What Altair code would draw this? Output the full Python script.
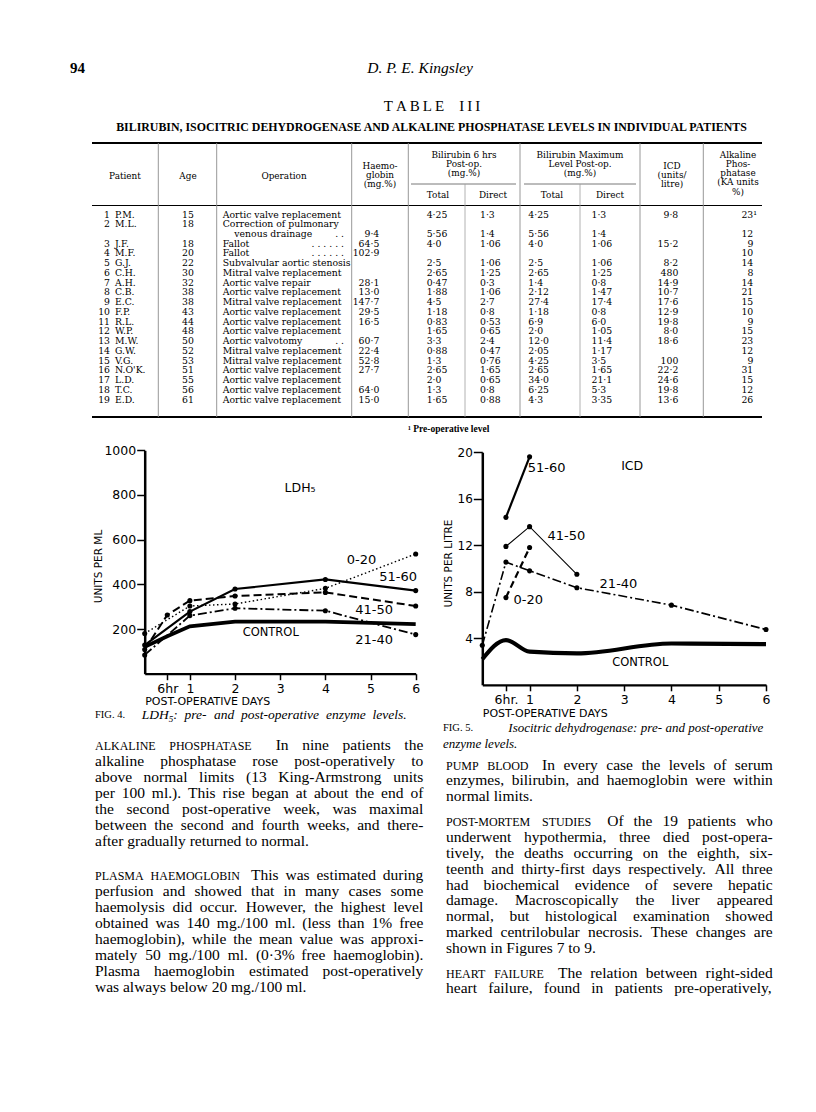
import altair as alt
import pandas as pd

W, H = 800, 1090
M = 8
SERIF = "Liberation Serif"
TSERIF = "DejaVu Serif"
SANS = "DejaVu Sans"

# ---------------------------------------------------------------- data
PATIENT = ["P.M.", "M.L.", "J.F.", "M.F.", "G.J.", "C.H.", "A.H.", "C.B.", "E.C.", "F.P.",
           "R.L.", "W.P.", "M.W.", "G.W.", "V.G.", "N.O'K.", "L.D.", "T.C.", "E.D."]
AGE = [15, 18, 18, 20, 22, 30, 32, 38, 38, 43, 44, 48, 50, 52, 53, 51, 55, 56, 61]
OPERATION = ["Aortic valve replacement", "Correction of pulmonary|venous drainage", "Fallot", "Fallot",
             "Subvalvular aortic stenosis", "Mitral valve replacement", "Aortic valve repair",
             "Aortic valve replacement", "Mitral valve replacement", "Aortic valve replacement",
             "Aortic valve replacement", "Aortic valve replacement", "Aortic valvotomy",
             "Mitral valve replacement", "Mitral valve replacement", "Aortic valve replacement",
             "Aortic valve replacement", "Aortic valve replacement", "Aortic valve replacement"]
HAEMO = ["", "9·4", "64·5", "102·9", "", "", "28·1", "13·0", "147·7", "29·5", "16·5", "", "60·7",
         "22·4", "52·8", "27·7", "", "64·0", "15·0"]
BILI6_TOTAL = ["4·25", "5·56", "4·0", "", "2·5", "2·65", "0·47", "1·88", "4·5", "1·18", "0·83", "1·65",
               "3·3", "0·88", "1·3", "2·65", "2·0", "1·3", "1·65"]
BILI6_DIRECT = ["1·3", "1·4", "1·06", "", "1·06", "1·25", "0·3", "1·06", "2·7", "0·8", "0·53", "0·65",
                "2·4", "0·47", "0·76", "1·65", "0·65", "0·8", "0·88"]
BILIMAX_TOTAL = ["4·25", "5·56", "4·0", "", "2·5", "2·65", "1·4", "2·12", "27·4", "1·18", "6·9", "2·0",
                 "12·0", "2·05", "4·25", "2·65", "34·0", "6·25", "4·3"]
BILIMAX_DIRECT = ["1·3", "1·4", "1·06", "", "1·06", "1·25", "0·8", "1·47", "17·4", "0·8", "6·0", "1·05",
                  "11·4", "1·17", "3·5", "1·65", "21·1", "5·3", "3·35"]
ICD_UNITS = ["9·8", "", "15·2", "", "8·2", "480", "14·9", "10·7", "17·6", "12·9", "19·8", "8·0", "18·6",
             "", "100", "22·2", "24·6", "19·8", "13·6"]
ALK_PHOS = ["23¹", "12", "9", "10", "14", "8", "14", "21", "15", "10", "9", "15", "23", "12", "9", "31",
            "15", "12", "26"]

# Fig. 4 : LDH5 (units per ml) by age group
LDH_CONTROL_DAYS = [0, 0.5, 1, 2, 4, 6]
LDH_CONTROL = [120, 168, 212, 233, 233, 222]
LDH_0_20_DAYS = [0, 1, 2, 4, 6]
LDH_0_20 = [180, 303, 312, 382, 536]
LDH_21_40_DAYS = [0, 1, 2, 4, 6]
LDH_21_40 = [84, 260, 293, 282, 175]
LDH_41_50_DAYS = [0, 0.5, 1, 2, 4, 6]
LDH_41_50 = [108, 263, 327, 348, 364, 303]
LDH_51_60_DAYS = [0, 1, 2, 4, 6]
LDH_51_60 = [128, 278, 379, 422, 372]

# Fig. 5 : ICD (units per litre) by age group
ICD_CONTROL_DAYS = [0, 0.5, 1, 2, 4, 6]
ICD_CONTROL = [2.2, 3.85, 2.85, 2.7, 3.55, 3.5]
ICD_0_20_DAYS = [0.5, 1]
ICD_0_20 = [7.5, 11.8]
ICD_21_40_DAYS = [0, 0.5, 1, 2, 4, 6]
ICD_21_40 = [3.4, 10.55, 9.8, 8.35, 6.85, 4.75]
ICD_41_50_DAYS = [0.5, 1, 2]
ICD_41_50 = [11.9, 13.6, 9.5]
ICD_51_60_DAYS = [0.5, 1]
ICD_51_60 = [14.4, 19.6]

LEFT_COLUMN = [
    ("ALKALINE PHOSPHATASE", [
        "In nine patients the",
        "alkaline phosphatase rose post-operatively to",
        "above normal limits (13 King-Armstrong units",
        "per 100 ml.). This rise began at about the end of",
        "the second post-operative week, was maximal",
        "between the second and fourth weeks, and there-",
        "after gradually returned to normal."], False),
    ("PLASMA HAEMOGLOBIN", [
        "This was estimated during",
        "perfusion and showed that in many cases some",
        "haemolysis did occur. However, the highest level",
        "obtained was 140 mg./100 ml. (less than 1% free",
        "haemoglobin), while the mean value was approxi-",
        "mately 50 mg./100 ml. (0·3% free haemoglobin).",
        "Plasma haemoglobin estimated post-operatively",
        "was always below 20 mg./100 ml."], False),
]
RIGHT_COLUMN = [
    ("PUMP BLOOD", [
        "In every case the levels of serum",
        "enzymes, bilirubin, and haemoglobin were within",
        "normal limits."], False),
    ("POST-MORTEM STUDIES", [
        "Of the 19 patients who",
        "underwent hypothermia, three died post-opera-",
        "tively, the deaths occurring on the eighth, six-",
        "teenth and thirty-first days respectively. All three",
        "had biochemical evidence of severe hepatic",
        "damage. Macroscopically the liver appeared",
        "normal, but histological examination showed",
        "marked centrilobular necrosis. These changes are",
        "shown in Figures 7 to 9."], False),
    ("HEART FAILURE", [
        "The relation between right-sided",
        "heart failure, found in patients pre-operatively,"], True),
]

# ---------------------------------------------------------------- font metrics (Times, 1/1000 em)
UP = "ABCDEFGHIJKLMNOPQRSTUVWXYZ"
LO = "abcdefghijklmnopqrstuvwxyz"
ROMAN = {' ': 250, '!': 333, '%': 833, "'": 333, '(': 333, ')': 333, ',': 250, '-': 333, '.': 250,
         '/': 278, ':': 278, ';': 278, '·': 250, '¹': 300}
ROMAN.update({d: 500 for d in "0123456789"})
ROMAN.update(dict(zip(UP, [722, 667, 667, 722, 611, 556, 722, 722, 333, 389, 722, 611, 889, 722, 722,
                           556, 722, 667, 556, 611, 722, 722, 944, 722, 722, 611])))
ROMAN.update(dict(zip(LO, [444, 500, 444, 500, 444, 333, 500, 500, 278, 278, 500, 278, 778, 500, 500,
                           500, 500, 333, 389, 278, 500, 500, 722, 500, 500, 444])))
ITALIC = dict(ROMAN)
ITALIC.update(dict(zip(LO, [500, 500, 444, 500, 444, 278, 500, 500, 278, 278, 444, 278, 722, 500, 500,
                            500, 500, 389, 389, 278, 500, 444, 667, 444, 444, 389])))
ITALIC.update(dict(zip(UP, [611, 611, 667, 722, 611, 611, 722, 722, 333, 444, 667, 556, 833, 667, 722,
                            611, 722, 611, 500, 556, 722, 611, 833, 611, 556, 556])))
ITALIC[':'] = 333
BOLD = dict(ROMAN)
BOLD.update(dict(zip(UP, [722, 667, 722, 722, 667, 611, 778, 778, 389, 500, 778, 667, 944, 722, 778,
                          611, 778, 722, 556, 667, 722, 722, 1000, 722, 722, 667])))


def em(s, table=ROMAN):
    return sum(table.get(c, 500) for c in s) / 1000.0


TEXT = []
RULES = []


def put(x, y, t, size, align="left", style="normal", weight="normal", font=SERIF, base="middle"):
    TEXT.append(dict(x=x, y=y, t=t, s=size, align=align, style=style, weight=weight, font=font, base=base))


def rule(x1, y1, x2, y2, w, c="black"):
    RULES.append(dict(x=x1, y=y1, x2=x2, y2=y2, w=w, c=c))


def line_words(y, x0, x1, runs, justify=True):
    words = []
    for text, size, style, lead in runs:
        table = ITALIC if style == "italic" else ROMAN
        for i, w in enumerate(text.split()):
            words.append([w, size, style, em(w, table) * size, lead if i == 0 else 1.0])
    words[0][4] = 0.0
    total = sum(w[3] for w in words)
    weights = sum(w[4] for w in words)
    if justify and weights > 0:
        unit = (x1 - x0 - total) / weights
    else:
        unit = 0.25 * words[-1][1]
    x = x0
    for w, size, style, width, lead in words:
        x += lead * unit
        put(x, y, w, size, "left", style, base="alphabetic")
        x += width
    return x


# ---------------------------------------------------------------- page header
put(70, 68, "94", 15, weight="bold")
put(420, 68, "D. P. E. Kingsley", 15.5, "center", style="italic")
put(432, 106, "\u2009".join("TABLE") + "\u2003" + "\u2009".join("III"), 15, "center")
SUB = "BILIRUBIN, ISOCITRIC DEHYDROGENASE AND ALKALINE PHOSPHATASE LEVELS IN INDIVIDUAL PATIENTS"
put(431.5, 127, SUB, 637 / em(SUB, BOLD), "center", weight="bold")

# ---------------------------------------------------------------- table
TL, TR = 92, 762
T_TOP, T_SUB, T_HEAD, T_BOT = 143, 184, 205.5, 417
rule(TL, T_TOP, TR, T_TOP, 2.2)
rule(TL, T_HEAD, TR, T_HEAD, 1.2)
rule(TL, T_BOT, TR, T_BOT, 2.2)
rule(411, T_SUB, 516, T_SUB, 0.8, "#555555")
rule(524, T_SUB, 636, T_SUB, 0.8, "#555555")
for vx in [158.3, 216.7, 351.7, 408.3, 520, 640, 703.3]:
    rule(vx, T_TOP, vx, T_BOT, 0.9, "#8c8c8c")
for vx in [465, 580]:
    rule(vx, T_SUB, vx, T_BOT, 0.8, "#a0a0a0")

HS, HSTEP = 8.9, 9.3
put(125, 176, "Patient", HS, "center", font=TSERIF)
put(188, 176, "Age", HS, "center", font=TSERIF)
put(284, 176, "Operation", HS, "center", font=TSERIF)
for i, t in enumerate(["Haemo-", "globin", "(mg.%)"]):
    put(380, 165.5 + HSTEP * i, t, HS, "center", font=TSERIF)
for i, t in enumerate(["Bilirubin 6 hrs", "Post-op.", "(mg.%)"]):
    put(464, 154.5 + HSTEP * i, t, HS, "center", font=TSERIF)
for i, t in enumerate(["Bilirubin Maximum", "Level Post-op.", "(mg.%)"]):
    put(580, 154.5 + HSTEP * i, t, HS, "center", font=TSERIF)
for x, t in [(438, "Total"), (493, "Direct"), (552, "Total"), (610, "Direct")]:
    put(x, 194.5, t, HS, "center", font=TSERIF)
for i, t in enumerate(["ICD", "(units/", "litre)"]):
    put(672, 165.5 + HSTEP * i, t, HS, "center", font=TSERIF)
for i, t in enumerate(["Alkaline", "Phos-", "phatase", "(KA units", "%)"]):
    put(738, 154.5 + HSTEP * i, t, HS, "center", font=TSERIF)

RS = 9.3
ROW_Y0, ROW_STEP = 214.5, 9.74


def ly(i):
    return ROW_Y0 + ROW_STEP * i


for k in range(19):
    nl = k if k < 2 else k + 1
    dl = 0 if k == 0 else (2 if k == 1 else k + 1)
    put(110, ly(nl), str(k + 1), RS, "right", font=TSERIF)
    put(115, ly(nl), PATIENT[k], RS, font=TSERIF)
    put(188, ly(nl), str(AGE[k]), RS, "center", font=TSERIF)
    parts = OPERATION[k].split("|")
    put(222.7, ly(nl), parts[0], RS, font=TSERIF)
    if len(parts) > 1:
        put(234.3, ly(nl + 1), parts[1], RS, font=TSERIF)
        put(344, ly(nl + 1), ". .", RS, "right", font=TSERIF)
    if parts[0] == "Fallot":
        put(344, ly(nl), ". .       . .       . .", RS, "right", font=TSERIF)
    if parts[0] == "Aortic valvotomy":
        put(344, ly(nl), ". .", RS, "right", font=TSERIF)
    put(379.3, ly(dl), HAEMO[k], RS, "right", font=TSERIF)
    put(426.7, ly(dl), BILI6_TOTAL[k], RS, font=TSERIF)
    put(480, ly(dl), BILI6_DIRECT[k], RS, font=TSERIF)
    put(528.3, ly(dl), BILIMAX_TOTAL[k], RS, font=TSERIF)
    put(591.5, ly(dl), BILIMAX_DIRECT[k], RS, font=TSERIF)
    put(678.3, ly(dl), ICD_UNITS[k], RS, "right", font=TSERIF)
    put(757 if ALK_PHOS[k].endswith("¹") else 753.3, ly(dl), ALK_PHOS[k], RS, "right", font=TSERIF)

put(408, 429, "¹ Pre-operative level", 9.5, weight="bold")

# ---------------------------------------------------------------- captions
put(95, 715, "FIG. 4.", 10.5)
cx = 141.7
put(cx, 718.5, "LDH", 13.5, style="italic", base="alphabetic")
cx += em("LDH", ITALIC) * 13.5
put(cx, 721.5, "5", 9, style="italic", base="alphabetic")
cx += em("5") * 9
line_words(718.5, cx, 406.7, [(": pre- and post-operative enzyme levels.", 13.5, "italic", 1.0)])

put(443, 728.3, "FIG. 5.", 10.5)
line_words(731.8, 508.3, 763.3, [("Isocitric dehydrogenase: pre- and post-operative", 13, "italic", 1.0)])
line_words(747.5, 443, 763.3, [("enzyme levels.", 13, "italic", 1.0)], justify=False)

# ---------------------------------------------------------------- body text
BS, HSZ = 15.5, 12


def column(paras, starts, step, x0, x1):
    for (head, lines, last_just), y0 in zip(paras, starts):
        for i, ln in enumerate(lines):
            y = y0 + step * i + 3.5
            just = (i < len(lines) - 1) or last_just
            runs = [(ln, BS, "normal", 1.0)]
            if i == 0:
                runs = [(head, HSZ, "normal", 0.0), (ln, BS, "normal", 1.6)]
            line_words(y, x0, x1, runs, justify=just)


column(LEFT_COLUMN, [746.7, 876.7], 16.0, 95, 423.3)
column(RIGHT_COLUMN, [766, 822.7, 974], 15.85, 446, 772.7)

# ---------------------------------------------------------------- page layers
PX = alt.Scale(domain=[M, M + W], range=[0, W], nice=False, zero=False)
PY = alt.Scale(domain=[M, M + H], range=[0, H], nice=False, zero=False)

tdf = pd.DataFrame(TEXT)
text_layers = []
for (align, style, weight, font, base), g in tdf.groupby(["align", "style", "weight", "font", "base"]):
    g = g[["x", "y", "t", "s"]].reset_index(drop=True)
    text_layers.append(
        alt.Chart(g).mark_text(align=align, baseline=base, fontStyle=style, fontWeight=weight,
                               font=font, color="black").encode(
            x=alt.X("x:Q", scale=PX, axis=None),
            y=alt.Y("y:Q", scale=PY, axis=None),
            text=alt.Text("t:N"),
            size=alt.Size("s:Q", scale=None),
        )
    )

rule_layer = alt.Chart(pd.DataFrame(RULES)).mark_rule().encode(
    x=alt.X("x:Q", scale=PX, axis=None), x2="x2:Q",
    y=alt.Y("y:Q", scale=PY, axis=None), y2="y2:Q",
    strokeWidth=alt.StrokeWidth("w:Q", scale=None),
    color=alt.Color("c:N", scale=None),
)

# ---------------------------------------------------------------- plots
AX = dict(domainColor="black", tickColor="black", labelColor="black", titleColor="black", grid=False,
          labelFont=SANS, titleFont=SANS, titleFontWeight="normal", labelFlush=False, labelOverlap=False)


def long_df(groups):
    rows = []
    for name, ds, vs in groups:
        for d, v in zip(ds, vs):
            rows.append(dict(g=name, day=d, v=v))
    return pd.DataFrame(rows)


def plot(groups, styles, labels, x0, x1, y0, y1, ymax, yvals, ytitle, ytitle_x, ytitle_y,
         hr_label, xtitle_dy, ytick, smooth_control, ylab):
    df = long_df(groups)
    xe = alt.X("day:Q", scale=alt.Scale(domain=[0, 6], range=[x0 - M, x1 - M], nice=False, zero=False),
               axis=alt.Axis(orient="bottom", offset=(y0 - M) - H, values=[0.5, 1, 2, 3, 4, 5, 6],
                             labelExpr="datum.value == 0.5 ? '%s' : datum.label" % hr_label,
                             tickSize=6, tickWidth=1.5, domainWidth=2.2, labelFontSize=12.5,
                             labelPadding=3, title="POST-OPERATIVE DAYS", titleFontSize=11,
                             titleX=x0 - M, titleY=xtitle_dy, titleAlign="left", titleAngle=0,
                             titleBaseline="middle", **AX))
    ye = alt.Y("v:Q", scale=alt.Scale(domain=[0, ymax], range=[y0 - M, y1 - M], nice=False, zero=False),
               axis=alt.Axis(orient="left", offset=-(x0 - M), values=yvals, format="d",
                             tickSize=ytick, tickWidth=1.5, domainWidth=2.5, labelFontSize=ylab,
                             labelPadding=1, title=ytitle, titleFontSize=10.5, titleX=ytitle_x - x0,
                             titleY=ytitle_y - M, titleAngle=-90, titleAlign="center",
                             titleBaseline="middle", **AX))
    base = alt.Chart(df)
    layers = []
    for name, st in styles.items():
        st = dict(st)
        if name == "CONTROL" and smooth_control:
            st["interpolate"] = "monotone"
        layers.append(base.transform_filter(alt.datum.g == name)
                      .mark_line(color="black", **st).encode(x=xe, y=ye))
    layers.append(base.transform_filter(alt.datum.g != "CONTROL")
                  .mark_circle(size=26, color="black", opacity=1).encode(x=xe, y=ye))
    ldf = pd.DataFrame(labels, columns=["t", "day", "v", "s"])
    layers.append(alt.Chart(ldf).mark_text(font=SANS, color="black", align="center", baseline="middle")
                  .encode(x=xe, y=ye, text="t:N", size=alt.Size("s:Q", scale=None)))
    return alt.layer(*layers)


ldh = plot(
    [("CONTROL", LDH_CONTROL_DAYS, LDH_CONTROL), ("0-20", LDH_0_20_DAYS, LDH_0_20),
     ("21-40", LDH_21_40_DAYS, LDH_21_40), ("41-50", LDH_41_50_DAYS, LDH_41_50),
     ("51-60", LDH_51_60_DAYS, LDH_51_60)],
    {"CONTROL": dict(strokeWidth=3.8), "51-60": dict(strokeWidth=2.2),
     "41-50": dict(strokeWidth=2.0, strokeDash=[8, 4]), "0-20": dict(strokeWidth=1.4, strokeDash=[1.5, 2.5]),
     "21-40": dict(strokeWidth=1.8, strokeDash=[9, 3, 2, 3])},
    [("LDH₅", 3.44, 830, 12.5), ("0-20", 4.8, 509, 13), ("51-60", 5.61, 432, 13), ("41-50", 5.08, 285, 13),
     ("CONTROL", 2.79, 181, 11.5), ("21-40", 5.08, 151, 13)],
    144.7, 415.7, 673.7, 450.3, 1000, [200, 400, 600, 800, 1000], "UNITS PER ML", 98, 566,
    "6hr", 28, 8, False, 12.5)

icd = plot(
    [("CONTROL", ICD_CONTROL_DAYS, ICD_CONTROL), ("0-20", ICD_0_20_DAYS, ICD_0_20),
     ("21-40", ICD_21_40_DAYS, ICD_21_40), ("41-50", ICD_41_50_DAYS, ICD_41_50),
     ("51-60", ICD_51_60_DAYS, ICD_51_60)],
    {"CONTROL": dict(strokeWidth=4.2), "51-60": dict(strokeWidth=2.2), "41-50": dict(strokeWidth=1.1),
     "0-20": dict(strokeWidth=2.2, strokeDash=[7, 4]), "21-40": dict(strokeWidth=1.6, strokeDash=[9, 3, 2, 3])},
    [("ICD", 3.17, 18.8, 12.5), ("51-60", 1.36, 18.6, 13), ("41-50", 1.78, 12.8, 13),
     ("21-40", 2.88, 8.67, 13), ("0-20", 0.97, 7.29, 13), ("CONTROL", 3.34, 1.9, 11.5)],
    482.3, 766, 684.8, 452.2, 20, [4, 8, 12, 16, 20], "UNITS PER LITRE", 448.5, 563,
    "6hr.", 29, 9, True, 12)

chart = alt.layer(rule_layer, *text_layers, ldh, icd).resolve_scale(
    x="independent", y="independent"
).properties(
    width=W, height=H, padding=0, autosize=alt.AutoSizeParams(type="none"), background="white"
).configure_view(strokeWidth=0)

chart.save("out.html", embed_options={"renderer": "svg", "actions": False})
